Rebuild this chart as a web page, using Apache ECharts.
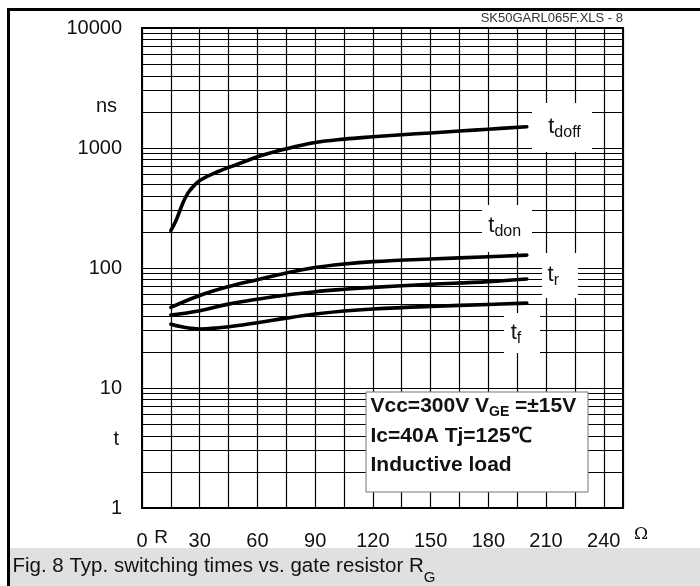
<!DOCTYPE html>
<html>
<head>
<meta charset="utf-8">
<script src="https://cdn.jsdelivr.net/npm/echarts@6/dist/echarts.min.js"></script>
<style>
  html, body { margin: 0; padding: 0; background: #fff; }
  #chart { width: 700px; height: 586px; }
</style>
</head>
<body>
<div id="chart"></div>
<script>
// gate resistor R_G (ohm) vs switching time (ns)
const tdoffR = [15, 17.5, 20, 22.5, 25, 30, 40, 50, 60, 75, 90, 105, 120, 135, 150, 165, 180, 200]
const tdoffT = [205, 245, 310, 385, 445, 535, 640, 735, 845, 985, 1110, 1185, 1240, 1290, 1335, 1385, 1435, 1505]
const tdonR = [15, 30, 45, 60, 75, 90, 105, 120, 150, 180, 200]
const tdonT = [47, 59, 70, 80, 91, 101, 108, 113, 119, 124, 128]
const trR = [15, 30, 45, 60, 75, 90, 105, 120, 150, 180, 200]
const trT = [40.5, 44, 50, 55, 59.5, 63.5, 66.5, 69, 73, 77, 81]
const tfR = [15, 20, 25, 30, 40, 50, 60, 75, 90, 105, 120, 150, 180, 200]
const tfT = [34, 32.5, 31.5, 31, 31.8, 33.2, 35, 38.2, 41.3, 43.8, 45.5, 47.8, 49.7, 51]

const xLabels = [0, 30, 60, 90, 120, 150, 180, 210, 240]
const yDecades = [1, 10, 100, 1000, 10000]
const minorSteps = [2, 3, 4, 5, 6, 7, 8, 9]

const FAM = '"Liberation Sans", Arial, Helvetica, sans-serif'
const font = (size, bold) => (bold ? 'bold ' : '') + size + 'px ' + FAM

// minor log grid lines 2..9 in every decade
const minorLines = []
yDecades.slice(0, -1).forEach(d => minorSteps.forEach(m => minorLines.push({ yAxis: d * m })))

const ctx = document.createElement('canvas').getContext('2d')
const textW = (s, f) => { ctx.font = f; return ctx.measureText(s).width }

// text made of pieces (for subscripts), laid out side by side
const pieces = (x, y, parts, align) => {
  const w = parts.map(p => textW(p.text, p.font))
  const total = w.reduce((a, b) => a + b, 0)
  let cx = align === 'center' ? x - total / 2 : align === 'right' ? x - total : x
  return parts.map((p, i) => {
    const el = {
      type: 'text', x: cx, y: y + (p.dy || 0), z: 101,
      style: { text: p.text, font: p.font, fill: p.fill || '#111', align: 'left', verticalAlign: 'middle' }
    }
    cx += w[i]
    return el
  })
}
const box = (x, y, w, h, stroke) => ({
  type: 'rect', z: 100, shape: { x, y, width: w, height: h },
  style: stroke ? { fill: '#fff', stroke, lineWidth: 1 } : { fill: '#fff' }
})
const curveLabel = (cx, cy, sub) => pieces(cx, cy, [
  { text: 't', font: font(22) },
  { text: sub, font: font(16), dy: 6 }
], 'center')
const plain = (x, y, text, f, align, fill) => ({
  type: 'text', x, y, z: 101,
  style: { text, font: f, fill: fill || '#111', align: align || 'left', verticalAlign: 'middle' }
})

const pairs = (xs, ys) => xs.map((x, i) => [x, ys[i]])
const curve = (name, xs, ys, extra) => Object.assign({
  name, type: 'line', data: pairs(xs, ys), showSymbol: false,
  smooth: 0.4, z: 3,
  lineStyle: { color: '#000', width: 3.6, cap: 'round', join: 'round' }, itemStyle: { color: '#000' }
}, extra || {})

const chart = echarts.init(document.getElementById('chart'))
chart.setOption({
  animation: false,
  backgroundColor: '#fff',
  grid: { left: 142, right: 77, top: 28, bottom: 78, show: true, borderColor: '#000', borderWidth: 2 },
  xAxis: {
    type: 'value', min: 0, max: 250, interval: 15,
    axisLine: { show: true, lineStyle: { color: '#000', width: 2 } },
    axisTick: { show: false },
    splitLine: { show: true, lineStyle: { color: '#000', width: 1.2 } },
    axisLabel: {
      margin: 23, color: '#111', fontSize: 20, fontFamily: FAM,
      formatter: v => (xLabels.indexOf(v) >= 0 ? String(v) : '')
    }
  },
  yAxis: {
    type: 'log', logBase: 10, min: 1, max: 10000,
    axisLine: { show: true, lineStyle: { color: '#000', width: 2 } },
    axisTick: { show: false },
    splitLine: { show: true, lineStyle: { color: '#000', width: 1.2 } },
    axisLabel: {
      margin: 20, color: '#111', fontSize: 20, fontFamily: FAM,
      formatter: v => (yDecades.indexOf(v) >= 0 ? String(v) : '')
    }
  },
  series: [
    curve('tdoff', tdoffR, tdoffT, {
      markLine: {
        silent: true, z: 1, symbol: ['none', 'none'], animation: false,
        label: { show: false },
        lineStyle: { color: '#000', width: 1, type: 'solid' },
        emphasis: { disabled: true },
        data: minorLines
      }
    }),
    curve('tdon', tdonR, tdonT),
    curve('tr', trR, trT),
    curve('tf', tfR, tfT)
  ],
  graphic: [
    // page frame and caption strip
    { type: 'rect', z: 100, shape: { x: 7, y: 8, width: 3, height: 578 }, style: { fill: '#000' } },
    { type: 'rect', z: 100, shape: { x: 7, y: 8, width: 693, height: 3 }, style: { fill: '#000' } },
    { type: 'rect', z: 99, shape: { x: 10, y: 548, width: 690, height: 38 }, style: { fill: '#e0e0e0' } },
    ...pieces(12.5, 566, [
      { text: 'Fig. 8 Typ. switching times vs. gate resistor R', font: font(20.5) },
      { text: 'G', font: font(15), dy: 12 }
    ], 'left'),
    plain(623, 18, 'SK50GARL065F.XLS - 8', font(13), 'right', '#333'),
    plain(117, 106, 'ns', font(20), 'right'),
    plain(119, 439, 't', font(20), 'right'),
    plain(161, 538, 'R', font(19), 'center'),
    plain(641, 535, 'Ω', '17px "DejaVu Serif", serif', 'center'),
    // curve names
    box(532, 103, 60, 49), ...curveLabel(564.5, 127, 'doff'),
    box(482, 205, 50, 47), ...curveLabel(504.7, 226, 'don'),
    box(542, 253, 36, 45), ...curveLabel(553.3, 275, 'r'),
    box(504, 313, 36, 40), ...curveLabel(516, 333, 'f'),
    // test conditions
    box(366, 392, 222, 100, '#777'),
    ...pieces(370.5, 406, [
      { text: 'Vcc=300V V', font: font(21, true) },
      { text: 'GE', font: font(14, true), dy: 6 },
      { text: ' =±15V', font: font(21, true) }
    ], 'left'),
    plain(370.5, 436, 'Ic=40A Tj=125℃', font(21, true)),
    plain(370.5, 465, 'Inductive load', font(21, true))
  ]
})
</script>
</body>
</html>
